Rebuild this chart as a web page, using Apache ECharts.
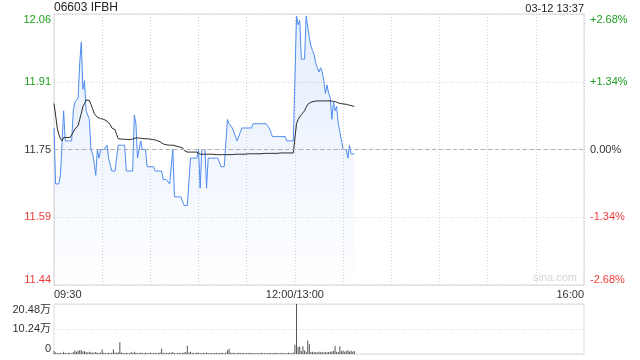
<!DOCTYPE html>
<html><head><meta charset="utf-8">
<script src="https://cdn.jsdelivr.net/npm/echarts@6/dist/echarts.min.js"></script>
<style>html,body{margin:0;padding:0;background:#fff}#c{width:640px;height:360px}</style>
</head><body><div id="c"></div>
<script>
const stockTitle = '06603 IFBH';
const stampText = '03-12 13:37';
const prevClose = 11.75;
const priceTickLabels = ['11.44', '11.59', '11.75', '11.91', '12.06'];
const pctTickLabels = ['-2.68%', '-1.34%', '0.00%', '+1.34%', '+2.68%'];
const volTickLabels = ['0', '10.24万', '20.48万'];
const timeTickLabels = ['09:30', '12:00/13:00', '16:00'];

const price = [
11.80,11.67,11.67,11.67,11.69,11.69,11.84,11.77,11.77,11.77,
11.77,11.77,11.84,11.86,11.86,11.87,11.95,12.00,11.89,11.91,
11.84,11.84,11.82,11.75,11.74,11.72,11.69,11.75,11.73,11.75,
11.75,11.75,11.75,11.76,11.73,11.73,11.70,11.70,11.70,11.73,
11.76,11.76,11.76,11.76,11.76,11.70,11.70,11.70,11.70,11.70,
11.83,11.81,11.73,11.73,11.77,11.75,11.75,11.75,11.71,11.71,
11.71,11.71,11.71,11.70,11.70,11.70,11.70,11.70,11.68,11.68,
11.68,11.68,11.67,11.67,11.75,11.64,11.64,11.64,11.64,11.64,
11.64,11.62,11.62,11.62,11.62,11.73,11.73,11.73,11.73,11.73,
11.75,11.66,11.75,11.75,11.75,11.66,11.73,11.73,11.73,11.73,
11.73,11.73,11.73,11.73,11.71,11.71,11.71,11.71,11.82,11.81,
11.81,11.80,11.79,11.79,11.77,11.77,11.79,11.80,11.80,11.80,
11.80,11.80,11.80,11.80,11.81,11.81,11.81,11.81,11.81,11.81,
11.81,11.81,11.81,11.81,11.80,11.79,11.78,11.78,11.78,11.78,
11.78,11.78,11.78,11.78,11.78,11.77,11.77,11.77,11.77,11.77,
11.77,12.06,12.04,12.05,11.96,11.96,11.96,12.06,12.06,12.01,
11.99,11.98,11.97,11.95,11.94,11.93,11.94,11.93,11.91,11.88,
11.90,11.88,11.87,11.82,11.86,11.84,11.85,11.81,11.79,11.77,
11.75,11.75,11.75,11.73,11.76,11.74,11.74,11.74
];

const avgPrice = [
11.857,11.830,11.800,11.785,11.775,11.770,11.778,11.778,11.778,11.778,
11.778,11.780,11.790,11.798,11.800,11.805,11.820,11.834,11.850,11.857,
11.865,11.866,11.864,11.855,11.845,11.834,11.830,11.825,11.822,11.822,
11.821,11.820,11.820,11.816,11.813,11.808,11.800,11.798,11.796,11.785,
11.775,11.774,11.774,11.774,11.774,11.774,11.773,11.773,11.773,11.773,
11.776,11.777,11.777,11.776,11.776,11.776,11.775,11.775,11.775,11.775,
11.774,11.774,11.773,11.772,11.771,11.770,11.768,11.765,11.763,11.762,
11.761,11.761,11.760,11.760,11.760,11.759,11.758,11.757,11.756,11.755,
11.754,11.748,11.744,11.744,11.744,11.744,11.744,11.744,11.744,11.744,
11.744,11.739,11.739,11.739,11.739,11.739,11.739,11.739,11.739,11.739,
11.738,11.738,11.738,11.738,11.738,11.738,11.738,11.738,11.738,11.738,
11.738,11.738,11.739,11.739,11.739,11.739,11.739,11.739,11.739,11.739,
11.740,11.740,11.740,11.740,11.740,11.740,11.740,11.740,11.740,11.740,
11.741,11.741,11.741,11.741,11.741,11.741,11.741,11.741,11.741,11.741,
11.742,11.742,11.742,11.742,11.742,11.742,11.742,11.742,11.742,11.742,
11.742,11.810,11.820,11.826,11.831,11.835,11.840,11.848,11.855,11.858,
11.860,11.861,11.862,11.862,11.863,11.863,11.863,11.863,11.863,11.863,
11.863,11.863,11.863,11.862,11.862,11.861,11.860,11.858,11.857,11.857,
11.856,11.855,11.855,11.854,11.853,11.852,11.851,11.850
];

const volume = [
12000,6000,4000,3000,5000,3000,9000,4000,3000,5000,
4000,3000,8000,14000,9000,12000,16000,15000,10000,11000,
8000,6000,9000,7000,5000,6000,8000,5000,4000,6000,
18000,5000,4000,3000,6000,4000,5000,18000,6000,5000,
7000,48000,6000,4000,3000,5000,4000,3000,8000,4000,
9000,5000,4000,3000,6000,4000,3000,5000,4000,3000,
6000,3000,4000,5000,3000,4000,6000,22000,5000,4000,
3000,4000,6000,5000,8000,4000,3000,4000,5000,3000,
4000,6000,8000,34000,6000,9000,5000,4000,3000,6000,
5000,4000,3000,5000,4000,6000,4000,3000,4000,3000,
4000,5000,3000,4000,5000,4000,3000,6000,15000,22000,
6000,4000,5000,3000,4000,5000,4000,3000,4000,3000,
4000,3000,5000,4000,3000,4000,3000,4000,3000,5000,
4000,3000,4000,3000,5000,4000,3000,4000,5000,3000,
4000,3000,5000,4000,3000,4000,5000,4000,3000,6000,
38000,204800,29000,31000,12000,32000,14000,9000,55000,40000,
8000,9000,7000,8000,6000,9000,7000,8000,6000,9000,
7000,8000,9000,10000,12000,34000,9000,8000,32000,11000,
14000,9000,12000,15000,10000,13000,9000,12000
];

function hm(m) { const h = Math.floor(m / 60), mm = m % 60; return (h < 10 ? '0' : '') + h + ':' + (mm < 10 ? '0' : '') + mm; }
const times = [];
for (let m = 570; m < 720; m++) times.push(hm(m));
times.push(timeTickLabels[1]);
for (let m = 781; m <= 960; m++) times.push(hm(m));

const pct = price.map(p => +((p / prevClose - 1) * 100).toFixed(4));
const avgPct = avgPrice.map(p => +((p / prevClose - 1) * 100).toFixed(4));

const GREEN = '#1e9e1e', RED = '#f03a3a', DARK = '#333';
const FONT = '"Liberation Sans", Arial, "Noto Sans CJK SC", sans-serif';
function pctColor(v) { v = parseFloat(v); return v > 0.001 ? GREEN : (v < -0.001 ? RED : DARK); }
function tickIdx(v) { return Math.round((parseFloat(v) + 2.68) / 1.34); }

const chart = echarts.init(document.getElementById('c'), null, { renderer: 'canvas' });
chart.setOption({
  animation: false,
  backgroundColor: '#fff',
  textStyle: { fontFamily: FONT },
  title: [
    { text: stockTitle, left: 54, top: 2, padding: 0, textStyle: { fontSize: 12, fontWeight: 'normal', color: '#222', fontFamily: FONT } },
    { text: stampText, right: 56, top: 3, padding: 0, textStyle: { fontSize: 11, fontWeight: 'normal', color: '#222', fontFamily: FONT } }
  ],
  graphic: [
    { type: 'text', left: 533, top: 272, silent: true, style: { text: 'sina.com', fill: '#d4d4d4', font: '11px ' + FONT } }
  ],
  grid: [
    { left: 54, right: 56, top: 14, height: 271, show: true, borderColor: '#d6d6d6', borderWidth: 1 },
    { left: 54, right: 56, top: 304, height: 50, show: true, borderColor: '#dcdcdc', borderWidth: 1 }
  ],
  xAxis: [
    {
      type: 'category', gridIndex: 0, data: times, boundaryGap: false,
      axisLine: { show: false }, axisTick: { show: false },
      axisLabel: {
        interval: (i) => i === 0 || i === 150 || i === 330,
        margin: 4, fontSize: 11, color: DARK, fontFamily: FONT,
        alignMinLabel: 'left', alignMaxLabel: 'right',
        showMinLabel: true, showMaxLabel: true
      },
      splitLine: { show: true, interval: (i) => i % 30 === 0, lineStyle: { color: '#d4d4d4', type: [1, 2], width: 1 } }
    },
    {
      type: 'category', gridIndex: 1, data: times, boundaryGap: false,
      axisLine: { show: false }, axisTick: { show: false }, axisLabel: { show: false }, splitLine: { show: false }
    }
  ],
  yAxis: [
    {
      type: 'value', gridIndex: 0, position: 'left', min: -2.68, max: 2.68, interval: 1.34,
      axisLine: { show: false }, axisTick: { show: false },
      axisLabel: {
        margin: 3, fontSize: 11, fontFamily: FONT,
        formatter: (v) => priceTickLabels[tickIdx(v)],
        color: (v) => pctColor(v),
        verticalAlignMaxLabel: 'top', verticalAlignMinLabel: 'bottom'
      },
      splitLine: { show: true, lineStyle: { color: '#d4d4d4', type: [1, 2], width: 1 } }
    },
    {
      type: 'value', gridIndex: 0, position: 'right', min: -2.68, max: 2.68, interval: 1.34,
      axisLine: { show: false }, axisTick: { show: false },
      axisLabel: {
        margin: 6, fontSize: 11, fontFamily: FONT,
        formatter: (v) => pctTickLabels[tickIdx(v)],
        color: (v) => pctColor(v),
        verticalAlignMaxLabel: 'top', verticalAlignMinLabel: 'bottom'
      },
      splitLine: { show: false }
    },
    {
      type: 'value', gridIndex: 1, position: 'left', min: 0, max: 204800, interval: 102400,
      axisLine: { show: false }, axisTick: { show: false },
      axisLabel: {
        margin: 3, fontSize: 11, color: DARK, fontFamily: FONT,
        formatter: (v) => volTickLabels[Math.round(v / 102400)],
        verticalAlignMaxLabel: 'top', verticalAlignMinLabel: 'bottom'
      },
      splitLine: { show: true, lineStyle: { color: '#d4d4d4', type: [1, 2], width: 1 } }
    }
  ],
  series: [
    {
      type: 'line', name: 'price', xAxisIndex: 0, yAxisIndex: 0, data: pct,
      showSymbol: false, symbol: 'none', silent: true,
      lineStyle: { color: '#4f8cf0', width: 1 },
      areaStyle: {
        origin: 'start',
        color: new echarts.graphic.LinearGradient(0, 0, 0, 1, [
          { offset: 0, color: 'rgba(79,140,240,0.22)' },
          { offset: 1, color: 'rgba(79,140,240,0.01)' }
        ])
      },
      markLine: {
        silent: true, symbol: 'none', label: { show: false },
        lineStyle: { color: '#b0b0b0', type: [4, 3], width: 1 },
        data: [{ yAxis: 0 }]
      },
      z: 3
    },
    {
      type: 'line', name: 'avg', xAxisIndex: 0, yAxisIndex: 0, data: avgPct,
      showSymbol: false, symbol: 'none', silent: true,
      lineStyle: { color: '#2a2a2a', width: 1 }, z: 4
    },
    {
      type: 'bar', name: 'vol', xAxisIndex: 1, yAxisIndex: 2, data: volume,
      barWidth: 1, itemStyle: { color: '#555' }, silent: true
    }
  ]
});
</script>
</body></html>
